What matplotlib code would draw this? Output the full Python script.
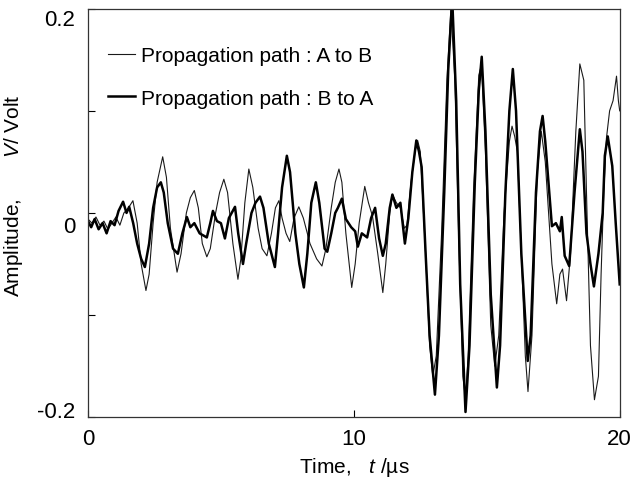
import numpy as np
import matplotlib.pyplot as plt
import matplotlib.transforms as mtransforms

plt.rcParams["font.family"] = ["Liberation Sans", "DejaVu Sans"]
plt.rcParams["mathtext.fontset"] = "custom"
plt.rcParams["mathtext.it"] = "Liberation Sans:italic"
plt.rcParams["mathtext.rm"] = "Liberation Sans"

# propagation path A -> B (thin line)
t_ab = [0.0, 0.15, 0.3, 0.45, 0.6, 0.75, 0.9, 1.05, 1.2, 1.35, 1.5, 1.69, 1.85, 2.0,
        2.18, 2.3, 2.45, 2.6, 2.81, 2.95, 3.1, 3.35, 3.5, 3.7, 3.85, 4.0, 4.15, 4.3,
        4.47, 4.6, 4.8, 4.95, 5.11, 5.25, 5.45, 5.64, 5.75, 5.9, 6.05, 6.2, 6.4, 6.55,
        6.73, 6.9, 7.05, 7.18, 7.3, 7.45, 7.59, 7.75, 7.93, 8.1, 8.35, 8.6, 8.8, 8.95,
        9.15, 9.3, 9.44, 9.55, 9.7, 9.92, 10.05, 10.2, 10.41, 10.55, 10.7, 10.9, 11.09,
        11.2, 11.35, 11.45, 11.6, 11.75, 11.9, 12.0, 12.15, 12.3, 12.4, 12.5, 12.7,
        12.85, 12.97, 13.1, 13.3, 13.5, 13.65, 13.8, 13.95, 14.1, 14.2, 14.3, 14.5,
        14.7, 14.8, 14.95, 15.15, 15.3, 15.45, 15.65, 15.85, 15.95, 16.05, 16.15,
        16.3, 16.45, 16.55, 16.7, 16.9, 17.05, 17.2, 17.45, 17.63, 17.75, 17.85, 18.0,
        18.15, 18.35, 18.5, 18.65, 18.75, 18.9, 19.05, 19.2, 19.3, 19.4, 19.5, 19.62,
        19.75, 19.88, 19.95, 20.0]
v_ab = [-0.006, -0.010, -0.004, -0.012, -0.008, -0.016, -0.010, -0.004, -0.012, 0.000,
        0.004, 0.012, -0.010, -0.050, -0.076, -0.060, -0.010, 0.030, 0.055, 0.035,
        -0.015, -0.058, -0.040, 0.000, 0.015, 0.022, 0.005, -0.030, -0.043, -0.035,
        0.000, 0.020, 0.033, 0.020, -0.030, -0.065, -0.045, 0.010, 0.043, 0.025,
        -0.015, -0.035, -0.042, -0.020, 0.005, 0.012, -0.005, -0.020, -0.028, -0.005,
        0.006, -0.005, -0.030, -0.045, -0.052, -0.035, 0.005, 0.030, 0.043, 0.030,
        -0.020, -0.073, -0.050, -0.010, 0.026, 0.010, -0.003, -0.040, -0.078, -0.050,
        0.000, 0.018, 0.010, 0.005, -0.015, -0.012, 0.030, 0.060, 0.071, 0.060,
        -0.040, -0.130, -0.160, -0.140, -0.020, 0.130, 0.200, 0.130, -0.030, -0.160,
        -0.182, -0.140, 0.020, 0.135, 0.145, 0.060, -0.110, -0.150, -0.120, 0.000,
        0.070, 0.085, 0.075, 0.060, -0.040, -0.140, -0.175, -0.120, 0.040, 0.080,
        0.050, -0.050, -0.089, -0.060, -0.055, -0.086, -0.040, 0.080, 0.146, 0.130,
        0.020, -0.130, -0.183, -0.160, -0.060, 0.020, 0.073, 0.100, 0.110, 0.134,
        0.110, 0.100]

# propagation path B -> A (thick line)
t_ba = [0.0, 0.12, 0.25, 0.4, 0.55, 0.7, 0.85, 1.0, 1.15, 1.32, 1.45, 1.55, 1.7, 1.85,
        2.0, 2.14, 2.3, 2.45, 2.6, 2.74, 2.85, 3.0, 3.2, 3.38, 3.55, 3.72, 3.85, 4.0,
        4.2, 4.47, 4.6, 4.7, 4.85, 5.0, 5.15, 5.3, 5.53, 5.65, 5.83, 5.95, 6.15, 6.3,
        6.47, 6.6, 6.8, 7.03, 7.15, 7.3, 7.48, 7.6, 7.8, 7.95, 8.12, 8.25, 8.4, 8.57,
        8.7, 8.9, 9.0, 9.15, 9.3, 9.4, 9.55, 9.7, 9.9, 10.05, 10.15, 10.3, 10.5, 10.65,
        10.8, 10.95, 11.09, 11.2, 11.35, 11.45, 11.6, 11.75, 11.92, 12.05, 12.2,
        12.35, 12.45, 12.55, 12.7, 12.85, 13.05, 13.2, 13.4, 13.55, 13.7, 13.85, 14.0,
        14.2, 14.35, 14.55, 14.7, 14.81, 14.95, 15.15, 15.38, 15.5, 15.7, 15.85,
        15.98, 16.1, 16.3, 16.54, 16.65, 16.85, 17.0, 17.1, 17.2, 17.45, 17.6, 17.75,
        17.82, 17.93, 18.1, 18.3, 18.5, 18.6, 18.75, 18.9, 19.03, 19.2, 19.36, 19.44,
        19.55, 19.72, 19.85, 20.0]
v_ba = [-0.008, -0.014, -0.006, -0.016, -0.010, -0.020, -0.008, -0.012, 0.002, 0.011,
        0.000, 0.006, -0.010, -0.030, -0.045, -0.053, -0.030, 0.005, 0.025, 0.030,
        0.020, -0.010, -0.035, -0.040, -0.020, -0.004, -0.014, -0.010, -0.020, -0.024,
        -0.010, 0.002, -0.008, -0.010, -0.025, -0.005, 0.006, -0.020, -0.050, -0.030,
        0.000, 0.010, 0.016, 0.005, -0.030, -0.053, -0.020, 0.025, 0.056, 0.040,
        -0.020, -0.050, -0.073, -0.040, 0.010, 0.030, 0.010, -0.035, -0.038, -0.020,
        0.000, 0.005, 0.014, -0.006, -0.014, -0.018, -0.033, -0.020, -0.024, -0.005,
        0.005, -0.025, -0.042, -0.030, 0.005, 0.018, 0.005, 0.010, -0.030, -0.005,
        0.040, 0.071, 0.060, 0.045, -0.040, -0.120, -0.178, -0.120, 0.020, 0.140,
        0.210, 0.110, -0.070, -0.195, -0.130, 0.030, 0.120, 0.153, 0.080, -0.080,
        -0.171, -0.130, 0.020, 0.100, 0.141, 0.100, -0.040, -0.145, -0.120, 0.020,
        0.080, 0.095, 0.070, -0.013, -0.010, -0.018, -0.004, -0.042, -0.052, 0.020,
        0.082, 0.060, -0.020, -0.050, -0.072, -0.040, 0.000, 0.056, 0.075, 0.046,
        -0.010, -0.070]

fig = plt.figure(figsize=(6.33, 4.89), dpi=100)
ax = fig.add_axes([0.139, 0.145, 0.840, 0.835])

ax.plot(t_ab, v_ab, color="#1a1a1a", lw=0.8, label="Propagation path : A to B")
ax.plot(t_ba, v_ba, color="black", lw=1.8, label="Propagation path : B to A")

ax.set_xlim(0, 20)
ax.set_ylim(-0.2, 0.2)
ax.set_xticks([0, 10, 20])
ax.set_xticklabels(["0", "10", "20"])
ax.set_yticks([-0.2, -0.1, 0, 0.1, 0.2])
ax.set_yticklabels(["-0.2", "", "0", "", "0.2"])
ax.tick_params(direction="in", length=5, width=0.8, labelsize=16)
ax.tick_params(axis="x", pad=8)
ax.tick_params(axis="y", pad=9)
for s in ax.spines.values():
    s.set_linewidth(0.9)
    s.set_color("#333333")

# y tick labels sit a little off their ticks in the original
shifts = [0.08, 0, -0.11, 0, -0.08]
for lab, dy in zip(ax.get_yticklabels(), shifts):
    lab.set_transform(lab.get_transform() +
                      mtransforms.ScaledTranslation(0, dy, fig.dpi_scale_trans))

ax.set_xlabel(r"Time,   $t$ /µs", fontsize=15, labelpad=4)
ax.set_ylabel(r"Amplitude,       $V$/ Volt", fontsize=15)
ax.yaxis.set_label_coords(-0.118, 0.545)

ax.legend(loc="upper left", bbox_to_anchor=(0.01, 0.945), frameon=False, fontsize=15,
          handlelength=1.3, handletextpad=0.3, labelspacing=1.15, borderaxespad=0.3)

plt.savefig("out.png", dpi=100)
